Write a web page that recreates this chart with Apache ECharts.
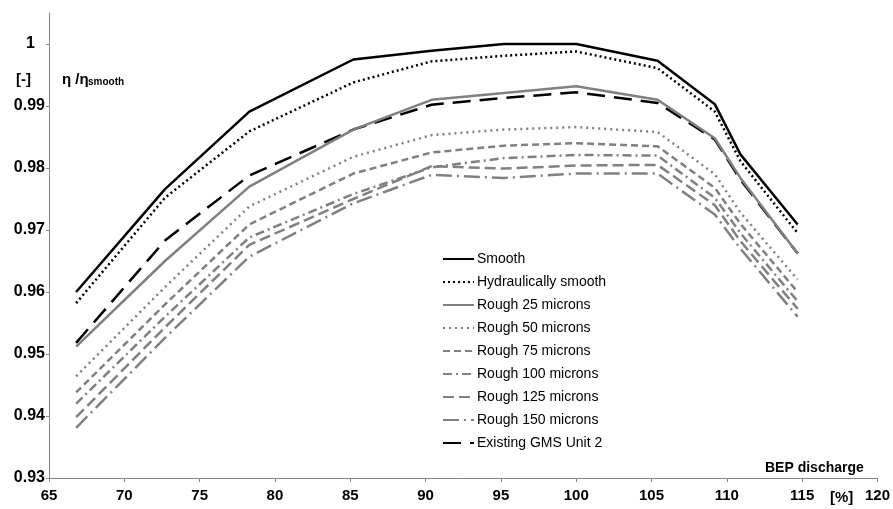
<!DOCTYPE html>
<html>
<head>
<meta charset="utf-8">
<script src="https://cdn.jsdelivr.net/npm/echarts@6/dist/echarts.min.js"></script>
<style>
html,body{margin:0;padding:0;background:#fff;}
#chart{width:893px;height:509px;}
</style>
</head>
<body>
<div id="chart"></div>
<script>
var xVals = [66.8, 72.7, 78.3, 85.2, 90.4, 95.2, 100, 105.4, 109.2, 110.9, 114.7];
var seriesNames = ['Smooth','Hydraulically smooth','Rough 25 microns','Rough 50 microns','Rough 75 microns','Rough 100 microns','Rough 125 microns','Rough 150 microns','Existing GMS Unit 2'];
var smooth    = [0.9600, 0.9766, 0.9891, 0.9975, 0.9989, 1.0000, 1.0000, 0.9973, 0.9903, 0.9822, 0.9709];
var hydraulic = [0.9582, 0.9752, 0.9859, 0.9938, 0.9972, 0.9981, 0.9988, 0.9961, 0.9891, 0.9811, 0.9695];
var rough25   = [0.9512, 0.9650, 0.9770, 0.9862, 0.9910, 0.9921, 0.9932, 0.9910, 0.9848, 0.9784, 0.9662];
var rough50   = [0.9464, 0.9608, 0.9738, 0.9818, 0.9853, 0.9862, 0.9866, 0.9858, 0.9790, 0.9728, 0.9620];
var rough75   = [0.9438, 0.9580, 0.9709, 0.9791, 0.9825, 0.9836, 0.9840, 0.9835, 0.9768, 0.9710, 0.9600];
var rough100  = [0.9420, 0.9560, 0.9688, 0.9758, 0.9801, 0.9816, 0.9821, 0.9820, 0.9752, 0.9695, 0.9585];
var rough125  = [0.9398, 0.9543, 0.9676, 0.9750, 0.9803, 0.9799, 0.9804, 0.9805, 0.9740, 0.9682, 0.9573];
var rough150  = [0.9381, 0.9526, 0.9657, 0.9743, 0.9789, 0.9784, 0.9791, 0.9791, 0.9725, 0.9670, 0.9560];
var gms       = [0.9518, 0.9683, 0.9788, 0.9862, 0.9902, 0.9913, 0.9922, 0.9905, 0.9846, 0.9781, 0.9662];

var FONT = "'Liberation Sans', Arial, sans-serif";
var BLACK = '#000000', GRAY = '#808080';
var styles = [
  {color: BLACK, type: 'solid'},
  {color: BLACK, type: [2, 3]},
  {color: GRAY, type: 'solid'},
  {color: GRAY, type: [2, 4]},
  {color: GRAY, type: [7, 4]},
  {color: GRAY, type: [9, 4, 2, 4]},
  {color: GRAY, type: [11, 5]},
  {color: GRAY, type: [16, 5, 2, 5]},
  {color: BLACK, type: [18, 9]}
];
var allData = [smooth, hydraulic, rough25, rough50, rough75, rough100, rough125, rough150, gms];

function pairs(ys){ return ys.map(function(y,i){ return [xVals[i], y]; }); }

var series = allData.map(function(d, i){
  return {
    name: seriesNames[i],
    type: 'line',
    data: pairs(d),
    symbol: 'none',
    showSymbol: false,
    z: 10 - i,
    lineStyle: {color: styles[i].color, type: styles[i].type, width: 2.5},
    itemStyle: {color: styles[i].color}
  };
});
series[0].z = 20;

var chart = echarts.init(document.getElementById('chart'), null, {renderer: 'canvas'});
chart.setOption({
  animation: false,
  backgroundColor: '#ffffff',
  grid: {left: 49, right: 12, top: 13, bottom: 31, containLabel: false},
  xAxis: {
    type: 'value', min: 65, max: 120, interval: 5,
    axisLine: {show: true, lineStyle: {color: '#868686', width: 1}},
    axisTick: {show: true, inside: false, length: 4, lineStyle: {color: '#868686'}},
    splitLine: {show: false},
    axisLabel: {color: '#000', fontFamily: FONT, fontWeight: 'bold', fontSize: 15, margin: 10}
  },
  yAxis: {
    type: 'value', min: 0.93, max: 1.005, interval: 0.01,
    axisLine: {show: true, lineStyle: {color: '#868686', width: 1}},
    axisTick: {show: true, inside: false, length: 3, lineStyle: {color: '#868686'}},
    splitLine: {show: false},
    axisLabel: {color: '#000', fontFamily: FONT, fontWeight: 'bold', fontSize: 16, margin: 4,
      showMaxLabel: false,
      formatter: function(v){
        var s = String(+v.toFixed(3));
        return s === '1' ? '{one|1}' : s;
      },
      rich: {one: {fontFamily: FONT, fontWeight: 'bold', fontSize: 16, color: '#000', padding: [0, 10, 0, 0]}}
    }
  },
  legend: {
    orient: 'vertical', left: 442, top: 252, padding: 0,
    itemWidth: 31, itemHeight: 14, itemGap: 9.0,
    itemStyle: {opacity: 0, borderWidth: 0},
    textStyle: {color: '#000', fontFamily: FONT, fontSize: 14, padding: [0, 0, 0, -2]},
    data: seriesNames
  },
  graphic: [
    {type: 'text', left: 16, top: 72, style: {text: '[-]', font: 'bold 15px ' + FONT, fill: '#000'}},
    {type: 'text', left: 62, top: 72, style: {text: 'η /η', font: 'bold 15px ' + FONT, fill: '#000'}},
    {type: 'text', left: 88, top: 77, style: {text: 'smooth', font: 'bold 10px ' + FONT, fill: '#000'}},
    {type: 'text', left: 765, top: 461, style: {text: 'BEP discharge', font: 'bold 14px ' + FONT, fill: '#000'}},
    {type: 'text', left: 830, top: 490, style: {text: '[%]', font: 'bold 15px ' + FONT, fill: '#000'}}
  ],
  series: series
});
</script>
</body>
</html>
